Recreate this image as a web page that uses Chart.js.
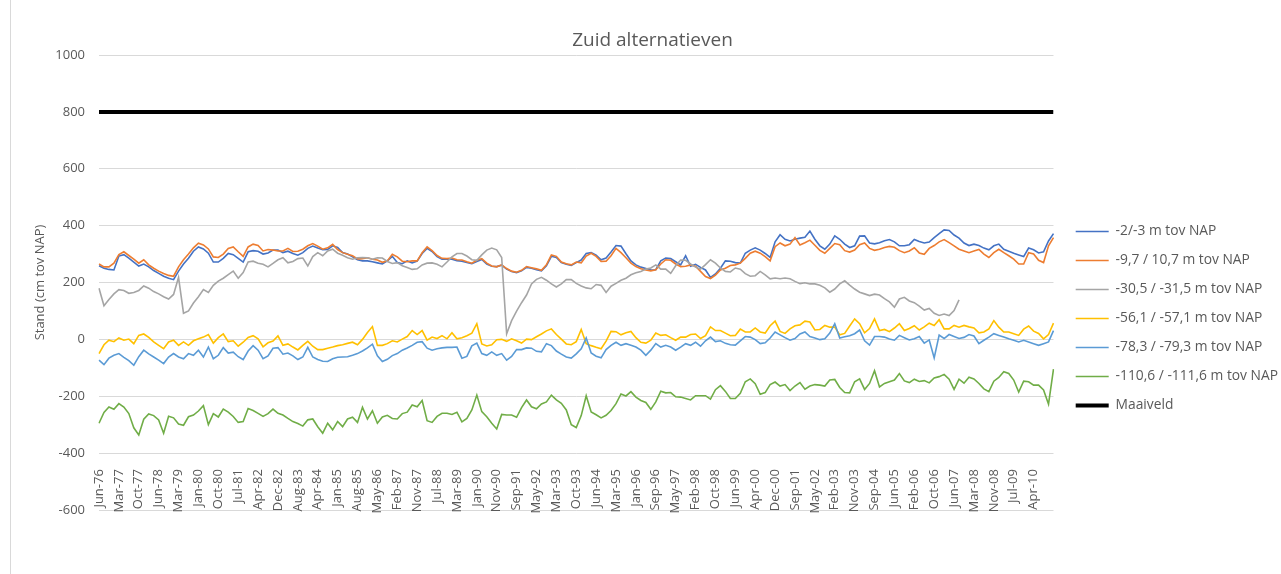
<!DOCTYPE html>
<html lang="nl">
<head>
<meta charset="utf-8">
<title>Zuid alternatieven</title>
<script src="https://cdn.jsdelivr.net/npm/chart.js@4.4.1/dist/chart.umd.min.js"></script>
<style>
  html, body { margin: 0; padding: 0; background: #ffffff; }
  #wrap { width: 1281px; height: 574px; }
</style>
</head>
<body>
<div id="wrap"><canvas id="standChart" width="1281" height="574"></canvas></div>
<script>
// tick labels under the axis, one every 4 measurements
const tickLabels = [
    'Jun-76', 'Mar-77', 'Oct-77', 'Jun-78', 'Mar-79', 'Jan-80', 'Oct-80', 'Jul-81', 'Apr-82', 'Dec-82',
    'Aug-83', 'Apr-84', 'Jan-85', 'Aug-85', 'May-86', 'Feb-87', 'Nov-87', 'Jul-88', 'Mar-89', 'Jan-90',
    'Nov-90', 'Sep-91', 'May-92', 'Mar-93', 'Oct-93', 'Jun-94', 'Mar-95', 'Jan-96', 'Sep-96', 'May-97',
    'Feb-98', 'Oct-98', 'Jun-99', 'Apr-00', 'Dec-00', 'Sep-01', 'May-02', 'Feb-03', 'Nov-03', 'Sep-04',
    'Jun-05', 'Feb-06', 'Oct-06', 'Jun-07', 'Mar-08', 'Nov-08', 'Jul-09', 'Apr-10'
];
const POINTS_PER_TICK = 4;

// stijghoogte per filter (cm tov NAP)
const stand2_3 = [
    259, 250, 246, 244, 293, 298, 286, 272, 258, 265, 255, 242, 232, 222, 215, 210, 240, 265, 285, 310,
    325, 318, 303, 272, 272, 285, 302, 298, 285, 272, 308, 312, 310,
    300, 304, 314, 314, 305, 310, 302, 296, 305, 320, 328, 321, 315, 316, 329, 323, 305, 300, 290, 280,
    276, 276, 273, 269, 265, 276, 292, 270, 266, 276, 269, 275,
    302, 320, 309, 291, 282, 282, 282, 277, 275, 270, 266, 274, 281, 265, 257, 256, 261, 247, 239, 235,
    241, 253, 250, 245, 241, 259, 292, 288, 270, 264, 260, 270,
    279, 302, 305, 296, 280, 286, 307, 330, 328, 301, 276, 262, 254, 249, 244, 245, 276, 286, 284, 273,
    262, 294, 257, 264, 253, 244, 218, 230, 250, 276, 275, 270,
    268, 303, 314, 322, 314, 302, 288, 343, 368, 352, 346, 352, 356, 359, 381, 352, 329, 317, 335, 364,
    352, 335, 323, 329, 363, 364, 339, 336, 340, 347, 351, 343, 329,
    329, 333, 351, 344, 339, 342, 358, 372, 385, 383, 367, 356, 339, 330, 335, 330, 321, 315, 329, 335,
    317, 310, 303, 297, 291, 321, 315, 304, 308, 346, 372
];
const stand9_7 = [
    265, 255, 255, 268, 298, 308, 295, 282, 268, 280, 262, 250, 240, 232, 225, 222, 255, 280, 300, 322,
    338, 332, 318, 290, 288, 300, 320, 325, 308, 292, 325, 335, 330,
    311, 316, 314, 311, 311, 320, 309, 310, 317, 329, 337, 328, 317, 322, 334, 316, 305, 299, 294, 283,
    284, 287, 282, 279, 271, 276, 299, 290, 275, 273, 276, 276,
    305, 325, 312, 295, 285, 284, 286, 280, 279, 273, 268, 278, 284, 268, 258, 255, 262, 249, 240, 236,
    243, 256, 252, 248, 243, 262, 297, 292, 272, 266, 262, 272,
    269, 293, 303, 292, 274, 275, 294, 320, 305, 287, 268, 256, 248, 244, 241, 245, 265, 280, 278, 265,
    256, 257, 262, 257, 239, 221, 214, 226, 244, 250, 260, 262,
    268, 285, 303, 310, 303, 291, 276, 326, 339, 329, 335, 358, 332, 340, 349, 331, 313, 303, 320, 337,
    333, 312, 307, 314, 333, 339, 320, 313, 317, 323, 327, 324, 312,
    305, 311, 322, 304, 299, 320, 330, 343, 351, 340, 329, 317, 311, 305, 311, 316, 300, 288, 305, 317,
    305, 294, 282, 265, 265, 305, 300, 278, 270, 329, 358
];
const stand30_5 = [
    180, 118, 140, 160, 175, 172, 162, 165, 172, 188, 180, 168, 160, 150, 142, 158, 218, 92, 100, 128,
    150, 175, 165, 190, 205, 215, 228, 240, 215, 235, 272, 275, 268,
    264, 255, 267, 280, 287, 269, 274, 284, 286, 258, 291, 305, 294, 311, 317, 303, 296, 287, 282, 287,
    288, 287, 282, 287, 286, 274, 267, 270, 259, 253, 246, 248,
    262, 268, 269, 264, 255, 272, 290, 302, 302, 293, 280, 278, 297, 314, 321, 315, 288, 20, 66, 99,
    129, 156, 195, 211, 218, 208, 195, 184, 195, 210, 210, 197,
    188, 181, 178, 193, 190, 165, 187, 197, 208, 215, 227, 234, 239, 247, 251, 262, 247, 247, 232, 259,
    279, 278, 265, 254, 247, 263, 280, 268, 251, 239, 237, 251,
    247, 231, 222, 224, 239, 227, 213, 216, 213, 216, 213, 204, 196, 199, 195, 195, 190, 181, 166, 177,
    195, 206, 191, 177, 166, 160, 154, 159, 156, 143, 132, 113, 142,
    148, 135, 129, 117, 103, 109, 92, 84, 89, 84, 101, 139,
    null, null, null, null, null, null, null, null, null, null, null, null, null, null, null, null, null, null, null
];
const stand56_1 = [
    -50, -19, -3, -8, 5, -3, 1, -15, 14, 19, 7, -9, -21, -33, -9, -3, -21, -9, -21, -5,
    2, 8, 17, -13, 6, 19, -8, -5, -24, -10, 7, 13, 2,
    -26, -12, -6, 12, -21, -16, -27, -37, -21, -7, -24, -36, -36, -31, -27, -22, -19, -14, -10, -19,
    0, 24, 45, -21, -21, -15, -5, -9, 1, 10, 31, 17,
    31, -3, 8, 3, 13, 2, 23, 2, 6, 13, 22, 55, -16, -23, -19, -1, 0, -7, 2, -5,
    -13, 1, -1, 9, 19, 30, 37, 17, 1, -16, -19, -8,
    35, -15, -22, -28, -33, -6, 28, 27, 16, 23, 28, 6, -10, -13, -3, 22, 14, 16, 6, -3,
    8, 8, 17, 19, 3, 13, 44, 31, 31, 22, 13, 14,
    36, 26, 26, 40, 26, 22, 48, 64, 28, 21, 37, 48, 51, 64, 61, 33, 35, 49, 43, 43,
    16, 21, 47, 72, 55, 23, 38, 72, 31, 35, 27, 40, 55,
    31, 38, 48, 33, 44, 57, 49, 69, 37, 37, 49, 43, 49, 44, 40, 23, 26, 37, 66, 43,
    26, 26, 20, 14, 36, 47, 29, 21, 2, 17, 57
];
const stand78_3 = [
    -73, -89, -66, -56, -50, -63, -75, -91, -61, -38, -51, -62, -73, -85, -62, -50, -62, -68, -50, -56,
    -38, -62, -27, -68, -56, -29, -48, -45, -61, -71, -41, -22, -38,
    -68, -58, -31, -29, -52, -48, -58, -71, -62, -28, -62, -71, -77, -78, -68, -63, -62, -61, -56, -50,
    -41, -30, -17, -58, -78, -70, -57, -50, -38, -30, -21, -10,
    -8, -31, -38, -33, -30, -28, -28, -27, -66, -60, -23, -13, -50, -56, -44, -56, -50, -73, -60, -36,
    -36, -30, -31, -42, -44, -15, -22, -41, -52, -62, -66, -51,
    -33, 5, -48, -59, -65, -36, -21, -10, -21, -15, -21, -27, -38, -56, -38, -15, -27, -21, -27, -38,
    -27, -15, -21, -10, -24, -5, 8, -8, -5, -14, -19, -20,
    -5, 10, 8, -1, -15, -12, 5, 26, 16, 6, -3, 3, 19, 26, 10, 5, -1, 2, 22, 55,
    5, 9, 13, 20, 33, -5, -20, 10, 10, 8, 1, -3, 14,
    6, -2, 2, 10, -13, -2, -65, 15, 3, 17, 10, 3, 7, 17, 12, -15, -3, 8, 20, 14,
    8, 2, -3, -9, -3, -9, -15, -21, -15, -9, 31
];
const stand110_6 = [
    -295, -257, -238, -246, -226, -238, -261, -311, -336, -281, -262, -268, -283, -330, -270, -276, -298, -302, -272, -266,
    -252, -233, -300, -261, -273, -245, -256, -271, -292, -289, -243, -250, -260,
    -271, -261, -245, -260, -266, -278, -289, -296, -305, -283, -280, -307, -330, -295, -318, -289, -307, -280, -274, -292,
    -239, -280, -251, -295, -273, -267, -278, -280, -261, -256, -231, -237,
    -215, -286, -292, -271, -260, -260, -264, -256, -290, -278, -248, -196, -254, -272, -295, -315, -264, -266, -266, -274,
    -240, -213, -237, -244, -227, -220, -196, -213, -225, -248, -300, -310,
    -268, -198, -255, -265, -276, -267, -250, -226, -192, -199, -184, -203, -215, -222, -246, -220, -182, -188, -187, -202,
    -203, -208, -213, -198, -198, -198, -210, -177, -163, -183, -208, -208,
    -190, -149, -139, -156, -193, -187, -159, -150, -164, -159, -180, -164, -152, -175, -164, -159, -161, -164, -143, -141,
    -169, -187, -188, -149, -139, -176, -155, -110, -167, -155, -149, -143, -120,
    -146, -152, -140, -148, -145, -153, -136, -131, -123, -140, -176, -140, -154, -133, -139, -155, -174, -184, -147, -134,
    -114, -120, -143, -185, -147, -149, -161, -161, -178, -228, -105
];
const MAAIVELD = 800;

// one category per measurement, only every 4th one gets a date
const labels = stand2_3.map((_, i) =>
    i % POINTS_PER_TICK === 0 ? (tickLabels[i / POINTS_PER_TICK] || '') : '');

const series = [
    { label: '-2/-3 m tov NAP', data: stand2_3, color: '#4472C4' },
    { label: '-9,7 / 10,7 m tov NAP', data: stand9_7, color: '#ED7D31' },
    { label: '-30,5 / -31,5 m tov NAP', data: stand30_5, color: '#A5A5A5' },
    { label: '-56,1 / -57,1 m tov NAP', data: stand56_1, color: '#FFC000' },
    { label: '-78,3 / -79,3 m tov NAP', data: stand78_3, color: '#5B9BD5' },
    { label: '-110,6 / -111,6 m tov NAP', data: stand110_6, color: '#70AD47' }
];

const datasets = series.map((s, i) => ({
    label: s.label,
    data: s.data,
    borderColor: s.color,
    backgroundColor: s.color,
    borderWidth: 1.6,
    pointRadius: 0,
    tension: 0,
    spanGaps: false,
    order: 10 - i
}));

// ground level, drawn over the full width on its own 0..1 axis
datasets.push({
    label: 'Maaiveld',
    data: [{ x: 0, y: MAAIVELD }, { x: 1, y: MAAIVELD }],
    xAxisID: 'xFull',
    borderColor: '#000000',
    backgroundColor: '#000000',
    borderWidth: 4,
    pointRadius: 0,
    order: 0
});

const TEXT = '#595959';
const GRID = '#d9d9d9';
const FONT = "'Open Sans', 'DejaVu Sans', sans-serif";

// nudges the legend block to the spot next to the plot
const LEGEND_DX = 7;
const LEGEND_DY = 36;
const legendShift = {
    id: 'legendShift',
    afterLayout(chart) {
        const lg = chart.legend;
        if (!lg) return;
        lg.left += LEGEND_DX; lg.right += LEGEND_DX;
        lg.top += LEGEND_DY; lg.bottom += LEGEND_DY;
    }
};

// white background and the chart frame
const chartFrame = {
    id: 'chartFrame',
    beforeDraw(chart) {
        const ctx = chart.ctx;
        ctx.save();
        ctx.fillStyle = '#ffffff';
        ctx.fillRect(0, 0, chart.width, chart.height);
        ctx.strokeStyle = GRID;
        ctx.lineWidth = 1;
        ctx.beginPath();
        ctx.moveTo(10.5, 0);
        ctx.lineTo(10.5, chart.height);
        ctx.stroke();
        ctx.restore();
    }
};

new Chart(document.getElementById('standChart'), {
    type: 'line',
    data: { labels: labels, datasets: datasets },
    plugins: [chartFrame, legendShift],
    options: {
        responsive: false,
        animation: false,
        devicePixelRatio: 1,
        layout: { padding: { left: 24, right: 0, top: 0, bottom: 64 } },
        plugins: {
            title: {
                display: true,
                text: 'Zuid alternatieven',
                color: TEXT,
                font: { family: FONT, size: 19, weight: 'normal' },
                padding: { top: 29, bottom: 3.2 }
            },
            legend: {
                position: 'right',
                align: 'center',
                fullSize: false,
                labels: {
                    color: TEXT,
                    font: { family: FONT, size: 13.8 },
                    usePointStyle: true,
                    pointStyle: 'line',
                    pointStyleWidth: 33,
                    padding: 15.2,
                    sort: (a, b) => a.datasetIndex - b.datasetIndex
                }
            },
            tooltip: { enabled: false }
        },
        scales: {
            x: {
                type: 'category',
                position: { y: -400 },
                grid: { display: false },
                border: { display: false },
                ticks: {
                    autoSkip: false,
                    maxRotation: 90,
                    minRotation: 90,
                    padding: 8,
                    color: TEXT,
                    font: { family: FONT, size: 13 }
                }
            },
            xFull: {
                type: 'linear',
                display: false,
                min: 0,
                max: 1
            },
            y: {
                min: -600,
                max: 1000,
                ticks: {
                    stepSize: 200,
                    padding: 14,
                    color: TEXT,
                    font: { family: FONT, size: 13 },
                    callback: (v) => String(v)
                },
                grid: { color: GRID, drawTicks: false },
                border: { display: false },
                title: {
                    display: true,
                    text: 'Stand (cm tov NAP)',
                    color: TEXT,
                    font: { family: FONT, size: 13 },
                    padding: { top: 8, bottom: 0 }
                },
                afterFit: (scale) => { scale.width = 75; }
            }
        }
    }
});
</script>
</body>
</html>
